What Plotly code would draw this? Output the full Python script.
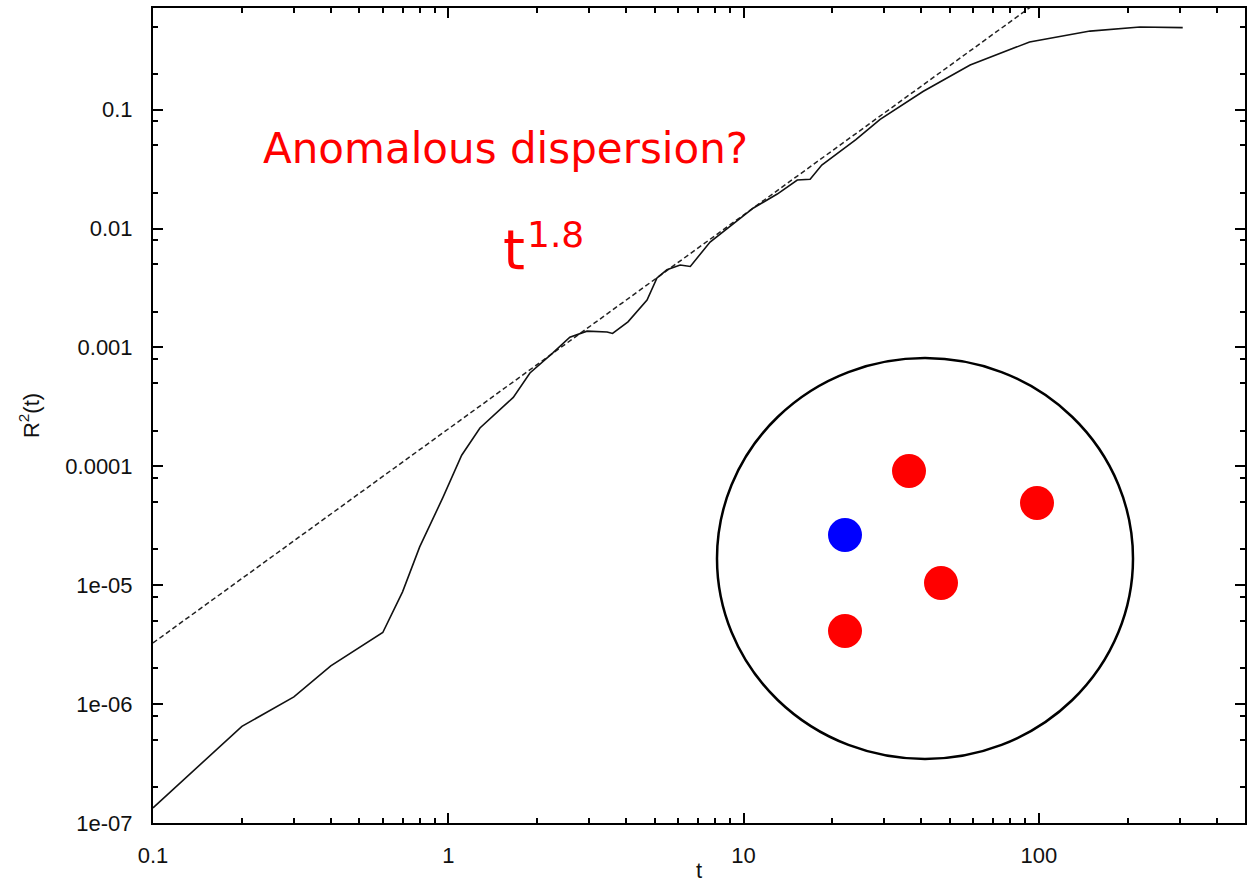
import plotly.graph_objects as go

# ---- data ----
t_curve = [0.1, 0.2, 0.3, 0.4, 0.6, 0.7, 0.8, 0.96, 1.11, 1.28, 1.66, 1.89, 2.26,
           2.58, 2.95, 3.45, 3.6, 4.06, 4.71, 5.09, 5.5, 6.1, 6.6, 7.2, 7.7, 10.8,
           13.0, 15.2, 16.8, 18.4, 24.0, 29, 33.9, 40.5, 58.5, 93, 149, 220, 307]
r2_curve = [1.34e-7, 6.5e-7, 1.15e-6, 2.1e-6, 4.0e-6, 8.8e-6, 2.1e-5, 5.5e-5, 1.24e-4,
            2.1e-4, 3.8e-4, 6.1e-4, 9.0e-4, 1.22e-3, 1.37e-3, 1.35e-3, 1.31e-3,
            1.64e-3, 2.5e-3, 3.84e-3, 4.5e-3, 4.93e-3, 4.8e-3, 6.2e-3, 7.7e-3,
            0.0149, 0.0195, 0.0256, 0.026, 0.0342, 0.056, 0.083, 0.106, 0.142,
            0.237, 0.371, 0.458, 0.495, 0.49]

t_fit = [0.1, 100]
r2_fit = [3.27e-6, 0.82]

x_tickvals = [0.1, 1, 10, 100]
x_ticktext = ["0.1", "1", "10", "100"]
y_tickvals = [1e-7, 1e-6, 1e-5, 1e-4, 1e-3, 1e-2, 1e-1]
y_ticktext = ["1e-07", "1e-06", "1e-05", "0.0001", "0.001", "0.01", "0.1"]

x_minor = [m * 10.0 ** e for e in range(-1, 3) for m in range(2, 10)]
y_minor = [m * 10.0 ** e for e in range(-7, 0) for m in (2, 5, 8)]

# ---- layout geometry (pixels of the 1249x883 page) ----
PL, PT, PR, PB = 153, 8, 1245, 823
PW, PH = PR - PL, PB - PT


def px(x):
    return (x - PL) / PW


def py(y):
    return (PB - y) / PH


circle_box = (717, 358, 1133, 759)
dot_r = 17
dots = [(909, 471, "#ff0000"), (1037, 503, "#ff0000"), (845, 535, "#0000ff"),
        (941, 583, "#ff0000"), (845, 631, "#ff0000")]

fig = go.Figure()
fig.add_trace(go.Scatter(x=t_fit, y=r2_fit, mode="lines",
                         line=dict(color="#222", width=1.5, dash="5px,3px"),
                         showlegend=False, hoverinfo="skip"))
fig.add_trace(go.Scatter(x=t_curve, y=r2_curve, mode="lines",
                         line=dict(color="#111", width=1.6),
                         showlegend=False))

shapes = [dict(type="circle", xref="paper", yref="paper",
               x0=px(circle_box[0]), x1=px(circle_box[2]),
               y0=py(circle_box[3]), y1=py(circle_box[1]),
               line=dict(color="black", width=2.5))]
for cx, cy, col in dots:
    shapes.append(dict(type="circle", xref="paper", yref="paper",
                       x0=px(cx - dot_r), x1=px(cx + dot_r),
                       y0=py(cy + dot_r), y1=py(cy - dot_r),
                       fillcolor=col, line=dict(width=0)))

annos = [
    dict(text="Anomalous dispersion?", xref="paper", yref="paper",
         x=px(505), y=py(148), showarrow=False, xanchor="center", yanchor="middle",
         font=dict(family="DejaVu Sans", size=42, color="#ff0000")),
    dict(text="t", xref="paper", yref="paper",
         x=px(514), y=py(250), showarrow=False, xanchor="center", yanchor="middle",
         font=dict(family="DejaVu Sans", size=56, color="#ff0000")),
    dict(text="1.8", xref="paper", yref="paper",
         x=px(555), y=py(235), showarrow=False, xanchor="center", yanchor="middle",
         font=dict(family="DejaVu Sans", size=36, color="#ff0000")),
]

axis_common = dict(type="log", showgrid=False, zeroline=False,
                   showline=True, linecolor="black", linewidth=2, mirror="ticks",
                   ticks="inside", ticklen=10, tickwidth=2, tickcolor="black",
                   tickfont=dict(family="Liberation Sans, Arial", size=22, color="#111"))

fig.update_layout(
    width=1249, height=883,
    margin=dict(l=PL, r=1249 - PR, t=PT, b=883 - PB),
    paper_bgcolor="white", plot_bgcolor="white",
    shapes=shapes, annotations=annos,
    xaxis=dict(**axis_common, range=[-1, 2.698],
               tickmode="array", tickvals=x_tickvals, ticktext=x_ticktext,
               ticklabelstandoff=12,
               minor=dict(tickmode="array", tickvals=x_minor, ticks="inside",
                          ticklen=5, tickwidth=1.5, tickcolor="black", showgrid=False),
               title=dict(text="t", standoff=4,
                          font=dict(family="Liberation Sans, Arial", size=22, color="#111"))),
    yaxis=dict(**axis_common, range=[-7, -0.145],
               tickmode="array", tickvals=y_tickvals, ticktext=y_ticktext,
               ticklabelstandoff=14,
               minor=dict(tickmode="array", tickvals=y_minor, ticks="inside",
                          ticklen=5, tickwidth=1.5, tickcolor="black", showgrid=False),
               title=dict(text="R<sup>2</sup>(t)", standoff=20,
                          font=dict(family="Liberation Sans, Arial", size=22, color="#111"))),
)
fig.update_xaxes(automargin=False)
fig.update_yaxes(automargin=False)

fig.write_html("out.html")
